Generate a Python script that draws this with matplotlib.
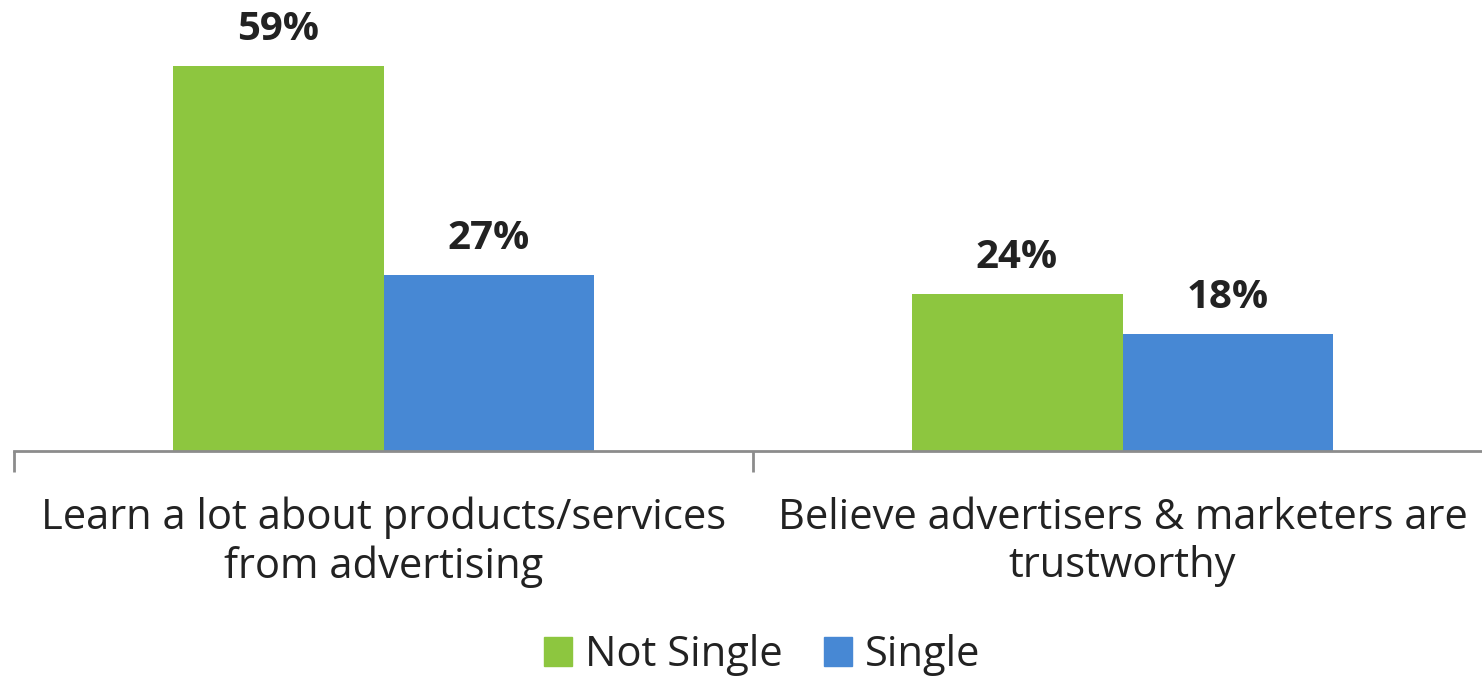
import numpy as np
import matplotlib.pyplot as plt
from matplotlib.patches import Patch

# Survey results, percent of respondents
categories = ['Learn a lot about products/services\nfrom advertising',
              'Believe advertisers & marketers are\ntrustworthy']
not_single = [59, 24]
single = [27, 18]

GREEN = '#8DC63F'
BLUE = '#4788D4'

plt.rcParams['font.family'] = ['Open Sans', 'DejaVu Sans']

fig = plt.figure(figsize=(14.82, 6.76), dpi=100)
ax = fig.add_axes([14 / 1482, 225 / 676, 1468 / 1482, 451 / 676])

x = np.arange(len(categories))
w = 0.2855
b1 = ax.bar(x - w / 2, not_single, w, color=GREEN, label='Not Single')
b2 = ax.bar(x + w / 2, single, w, color=BLUE, label='Single')

for bars, vals in [(b1, not_single), (b2, single)]:
    for bar, v in zip(bars, vals):
        ax.text(bar.get_x() + bar.get_width() / 2, v + 2.6, f'{v}%',
                ha='center', va='bottom', fontsize=29, fontweight='bold',
                color='#222222')

ax.set_xlim(-0.5, 1468 / 739 - 0.5)
ax.set_ylim(0, 451 / 6.525)
ax.set_yticks([])
for s in ['top', 'right', 'left']:
    ax.spines[s].set_visible(False)
ax.spines['bottom'].set_color('#8c8c8c')
ax.spines['bottom'].set_linewidth(2)

# category separators as tick marks
ax.set_xticks([-0.5, 0.5], minor=True)
ax.tick_params(axis='x', which='minor', length=15, width=2, color='#8c8c8c')
ax.set_xticks(x)
ax.set_xticklabels(categories, fontsize=30, color='#222222', linespacing=1.2)
ax.tick_params(axis='x', which='major', length=0, pad=33)

handles = [Patch(color=GREEN, label='Not Single'), Patch(color=BLUE, label='Single')]
fig.legend(handles=handles, loc='center', bbox_to_anchor=(762 / 1482, 1 - 655 / 676),
           ncol=2, frameon=False, fontsize=30, handlelength=0.68, handleheight=0.68,
           handletextpad=0.3, columnspacing=1.0, labelcolor='#222222')

fig.savefig('out.png', dpi=100)
